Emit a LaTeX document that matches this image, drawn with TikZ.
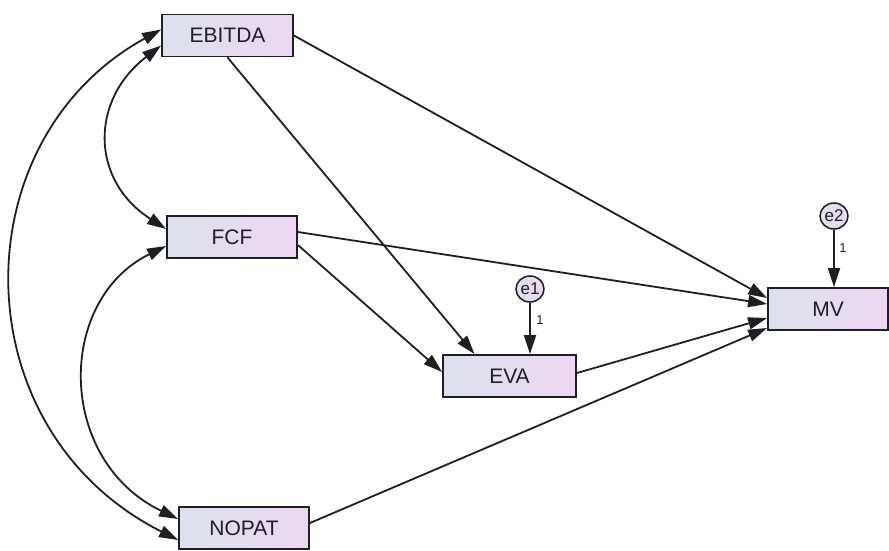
\documentclass[tikz,border=0pt]{standalone}
\usepackage{fontspec}
\setmainfont{Liberation Sans}
\usetikzlibrary{arrows.meta,calc,shapes.geometric}
\definecolor{boxL}{RGB}{221,225,237}
\definecolor{boxR}{RGB}{237,215,243}
\definecolor{ink}{RGB}{30,30,36}
\tikzset{
  var/.style={draw=ink, line width=1.8pt, left color=boxL, right color=boxR,
    minimum height=42pt, inner sep=0pt, text=ink, font=\fontsize{21}{24}\selectfont},
  err/.style={ellipse, draw=ink, line width=1.5pt, left color=boxL, right color=boxR,
    minimum width=28pt, minimum height=26pt, inner sep=0pt, text=ink,
    font=\fontsize{17}{19}\selectfont},
  path/.style={draw=ink, line width=1.8pt, -{Triangle[length=19pt,width=12pt]}},
  cov/.style={draw=ink, line width=1.8pt, {Triangle[length=19pt,width=12pt]}-{Triangle[length=19pt,width=12pt]}},
  one/.style={text=ink, font=\fontsize{13}{15}\selectfont, inner sep=0pt}
}
\begin{document}
\begin{tikzpicture}[x=1pt,y=-1pt]
\useasboundingbox (0,0) rectangle (889,550);
\node[var, minimum width=131pt] (EBITDA) at (227.5,35.5) {EBITDA};
\node[var, minimum width=130pt] (FCF) at (232,237) {FCF};
\node[var, minimum width=130pt] (NOPAT) at (244,528) {NOPAT};
\node[var, minimum width=133pt] (EVA) at (509.5,376) {EVA};
\node[var, minimum width=120pt] (MV) at (828,309) {MV};
\node[err] (e1) at (530,289) {e1};
\node[err] (e2) at (834,216) {e2};
\node[one] (l1) at (540,320) {1};
\node[one] (l2) at (843,248) {1};
% error paths
\draw[path] (e1.south) -- (e1.south |- EVA.north);
\draw[path] (e2.south) -- (e2.south |- MV.north);
% structural paths
\draw[path] (EBITDA.east) -- ($(MV.west)+(0,-11)$);
\draw[path] (EBITDA.south) -- ($(EVA.north)+(-35,0)$);
\draw[path] ($(FCF.east)+(0,-5)$) -- ($(MV.west)+(0,-5)$);
\draw[path] ($(FCF.east)+(0,8)$) -- ($(EVA.west)+(0,-4)$);
\draw[path] ($(EVA.east)+(0,-3)$) -- ($(MV.west)+(0,9)$);
\draw[path] ($(NOPAT.east)+(0,-5)$) -- ($(MV.west)+(0,19)$);
% covariances
\draw[cov] ($(EBITDA.west)+(0,-6)$) .. controls (-40,140) and (-40,430) .. ($(NOPAT.west)+(0,12)$);
\draw[cov] ($(EBITDA.west)+(0,10)$) .. controls (90,100) and (90,180) .. ($(FCF.west)+(0,-8)$);
\draw[cov] ($(FCF.west)+(0,9)$) .. controls (56,300) and (56,460) .. ($(NOPAT.west)+(0,-9)$);
\end{tikzpicture}
\end{document}
